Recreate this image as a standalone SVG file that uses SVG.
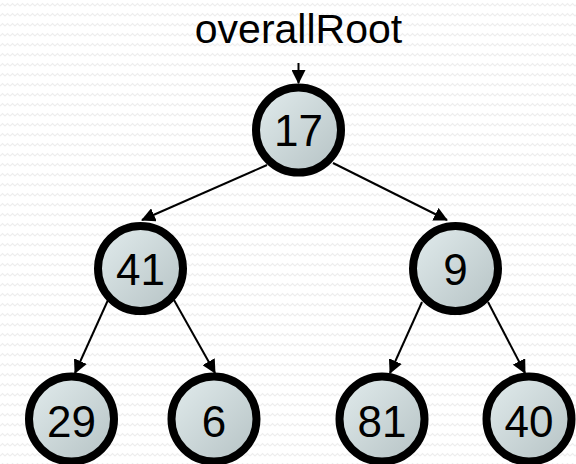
<svg xmlns="http://www.w3.org/2000/svg" width="576" height="464" viewBox="0 0 576 464">
<defs>
<pattern id="zz" width="10" height="10" patternUnits="userSpaceOnUse">
<polyline points="0,6 2.5,3.5 5,6 7.5,3.5 10,6" fill="none" stroke="#eeeeee" stroke-width="1.2"/>
</pattern>
<linearGradient id="g" x1="0" y1="0" x2="1" y2="1">
<stop offset="0" stop-color="#e2eced"/>
<stop offset="1" stop-color="#b5c2c4"/>
</linearGradient>
<marker id="ah" markerUnits="userSpaceOnUse" markerWidth="14" markerHeight="14" viewBox="0 0 14 14" refX="13" refY="7" orient="auto">
<path d="M0,0 L14,7 L0,14 Z" fill="#000"/>
</marker>
</defs>
<style>
.n circle{fill:url(#g);stroke:#000;stroke-width:8}
.n text{font-family:"Liberation Sans",Arial,sans-serif;font-size:44px;text-anchor:middle;fill:#000}
.e line{stroke:#000;stroke-width:2;marker-end:url(#ah)}
.lbl{font-family:"Liberation Sans",Arial,sans-serif;font-size:41px;text-anchor:middle;fill:#000}
</style>
<rect width="576" height="464" fill="#fff"/>
<rect width="576" height="464" fill="url(#zz)"/>
<text id="label" class="lbl" x="298.5" y="43">overallRoot</text>
<g id="connectors" class="e">
<line x1="298.5" y1="63" x2="298.5" y2="83"/>
<line x1="267" y1="165" x2="142" y2="220"/>
<line x1="333" y1="163" x2="447" y2="220"/>
<line x1="108" y1="300" x2="75" y2="373"/>
<line x1="174" y1="300" x2="215" y2="373"/>
<line x1="422" y1="302" x2="390" y2="373"/>
<line x1="488" y1="302" x2="525" y2="373"/>
</g>
<g id="n17" class="n"><circle cx="298.5" cy="130" r="42.5"/><text x="298.5" y="146">17</text></g>
<g id="n41" class="n"><circle cx="140.5" cy="268.5" r="42.5"/><text x="140.5" y="284.5">41</text></g>
<g id="n9" class="n"><circle cx="455.5" cy="268.5" r="42.5"/><text x="455.5" y="284.5">9</text></g>
<g id="n29" class="n"><circle cx="71.5" cy="419" r="42.5"/><text x="71.5" y="437">29</text></g>
<g id="n6" class="n"><circle cx="214" cy="419" r="42.5"/><text x="214" y="437">6</text></g>
<g id="n81" class="n"><circle cx="382" cy="419" r="42.5"/><text x="382" y="437">81</text></g>
<g id="n40" class="n"><circle cx="529" cy="419" r="42.5"/><text x="529" y="437">40</text></g>
</svg>
